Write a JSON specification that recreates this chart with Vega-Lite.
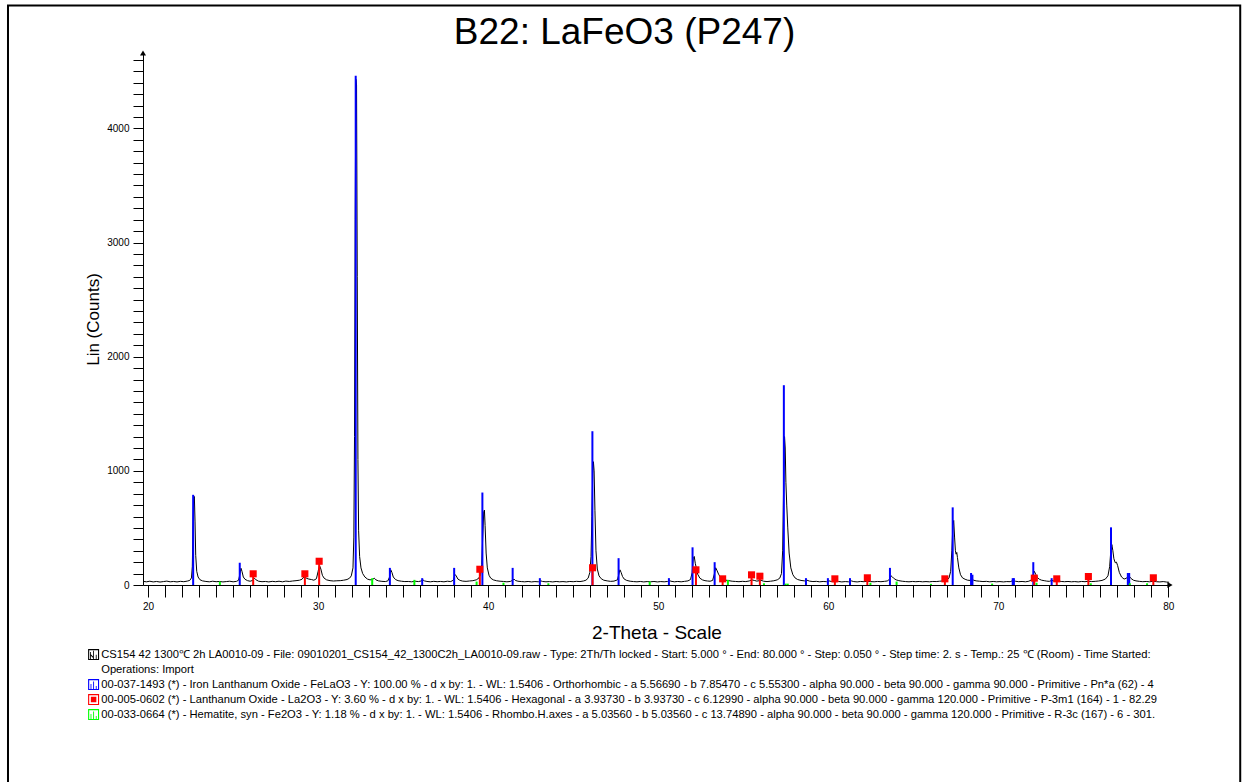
{
  "$schema": "https://vega.github.io/schema/vega-lite/v6.json",
  "width": 1027,
  "height": 532,
  "autosize": {"type": "none"},
  "padding": {"left": 143, "top": 53, "right": 76, "bottom": 197},
  "background": "white",
  "config": {"view": {"stroke": null}, "font": "Liberation Sans"},
  "title": {
    "text": "B22: LaFeO3 (P247)",
    "fontSize": 37,
    "fontWeight": "normal",
    "color": "black",
    "anchor": "middle",
    "frame": "group",
    "dx": -32,
    "offset": -77,
    "baseline": "alphabetic"
  },
  "datasets": {
    "scan": [
      {"angle": 19.7, "counts": 32}, {"angle": 19.9, "counts": 28}, {"angle": 20.1, "counts": 33}, {"angle": 20.3, "counts": 27},
      {"angle": 20.5, "counts": 31}, {"angle": 20.7, "counts": 26}, {"angle": 20.9, "counts": 30}, {"angle": 21.1, "counts": 34},
      {"angle": 21.3, "counts": 28}, {"angle": 21.5, "counts": 31}, {"angle": 21.7, "counts": 27}, {"angle": 21.9, "counts": 32},
      {"angle": 22.1, "counts": 29}, {"angle": 22.3, "counts": 34}, {"angle": 22.45, "counts": 40}, {"angle": 22.55, "counts": 62},
      {"angle": 22.6, "counts": 160}, {"angle": 22.64, "counts": 520}, {"angle": 22.68, "counts": 760}, {"angle": 22.72, "counts": 775},
      {"angle": 22.76, "counts": 560}, {"angle": 22.8, "counts": 260}, {"angle": 22.86, "counts": 120}, {"angle": 22.94, "counts": 70},
      {"angle": 23.05, "counts": 46}, {"angle": 23.2, "counts": 36}, {"angle": 23.4, "counts": 31}, {"angle": 23.6, "counts": 28},
      {"angle": 23.8, "counts": 33}, {"angle": 24.0, "counts": 29}, {"angle": 24.2, "counts": 31}, {"angle": 24.4, "counts": 27},
      {"angle": 24.6, "counts": 30}, {"angle": 24.8, "counts": 33}, {"angle": 25.0, "counts": 28}, {"angle": 25.2, "counts": 32},
      {"angle": 25.32, "counts": 42}, {"angle": 25.4, "counts": 95}, {"angle": 25.46, "counts": 147}, {"angle": 25.52, "counts": 120},
      {"angle": 25.6, "counts": 70}, {"angle": 25.7, "counts": 50}, {"angle": 25.85, "counts": 38}, {"angle": 26.0, "counts": 33},
      {"angle": 26.15, "counts": 40}, {"angle": 26.25, "counts": 60}, {"angle": 26.35, "counts": 45}, {"angle": 26.5, "counts": 33},
      {"angle": 26.7, "counts": 29}, {"angle": 26.9, "counts": 31}, {"angle": 27.1, "counts": 27}, {"angle": 27.3, "counts": 32},
      {"angle": 27.5, "counts": 29}, {"angle": 27.7, "counts": 33}, {"angle": 27.9, "counts": 28}, {"angle": 28.1, "counts": 34},
      {"angle": 28.3, "counts": 31}, {"angle": 28.5, "counts": 35}, {"angle": 28.7, "counts": 38}, {"angle": 28.9, "counts": 42},
      {"angle": 29.05, "counts": 50}, {"angle": 29.2, "counts": 78}, {"angle": 29.3, "counts": 60}, {"angle": 29.45, "counts": 52},
      {"angle": 29.6, "counts": 48}, {"angle": 29.75, "counts": 42}, {"angle": 29.9, "counts": 55}, {"angle": 30.0, "counts": 120},
      {"angle": 30.08, "counts": 171}, {"angle": 30.16, "counts": 140}, {"angle": 30.25, "counts": 85}, {"angle": 30.35, "counts": 60},
      {"angle": 30.5, "counts": 45}, {"angle": 30.7, "counts": 38}, {"angle": 30.9, "counts": 35}, {"angle": 31.1, "counts": 37},
      {"angle": 31.3, "counts": 38}, {"angle": 31.5, "counts": 42}, {"angle": 31.7, "counts": 48}, {"angle": 31.85, "counts": 60},
      {"angle": 31.95, "counts": 80}, {"angle": 32.05, "counts": 150}, {"angle": 32.1, "counts": 420}, {"angle": 32.14, "counts": 1300},
      {"angle": 32.18, "counts": 3200}, {"angle": 32.22, "counts": 4430}, {"angle": 32.26, "counts": 4380}, {"angle": 32.3, "counts": 2700},
      {"angle": 32.34, "counts": 1100}, {"angle": 32.38, "counts": 480}, {"angle": 32.44, "counts": 250}, {"angle": 32.52, "counts": 150},
      {"angle": 32.62, "counts": 100}, {"angle": 32.75, "counts": 70}, {"angle": 32.9, "counts": 52}, {"angle": 33.05, "counts": 45},
      {"angle": 33.2, "counts": 48}, {"angle": 33.3, "counts": 60}, {"angle": 33.4, "counts": 45}, {"angle": 33.55, "counts": 36},
      {"angle": 33.75, "counts": 32}, {"angle": 33.95, "counts": 30}, {"angle": 34.1, "counts": 36}, {"angle": 34.2, "counts": 70},
      {"angle": 34.27, "counts": 133}, {"angle": 34.34, "counts": 110}, {"angle": 34.42, "counts": 70}, {"angle": 34.55, "counts": 48},
      {"angle": 34.7, "counts": 38}, {"angle": 34.9, "counts": 33}, {"angle": 35.1, "counts": 30}, {"angle": 35.3, "counts": 31},
      {"angle": 35.5, "counts": 28}, {"angle": 35.7, "counts": 33}, {"angle": 35.9, "counts": 30}, {"angle": 36.05, "counts": 35},
      {"angle": 36.15, "counts": 46}, {"angle": 36.25, "counts": 36}, {"angle": 36.4, "counts": 31}, {"angle": 36.6, "counts": 28},
      {"angle": 36.8, "counts": 32}, {"angle": 37.0, "counts": 29}, {"angle": 37.2, "counts": 31}, {"angle": 37.4, "counts": 28},
      {"angle": 37.6, "counts": 33}, {"angle": 37.8, "counts": 30}, {"angle": 37.95, "counts": 42}, {"angle": 38.05, "counts": 92},
      {"angle": 38.12, "counts": 80}, {"angle": 38.22, "counts": 52}, {"angle": 38.35, "counts": 40}, {"angle": 38.5, "counts": 34},
      {"angle": 38.7, "counts": 32}, {"angle": 38.9, "counts": 35}, {"angle": 39.1, "counts": 38}, {"angle": 39.3, "counts": 45},
      {"angle": 39.45, "counts": 60}, {"angle": 39.55, "counts": 90}, {"angle": 39.62, "counts": 180}, {"angle": 39.68, "counts": 420},
      {"angle": 39.74, "counts": 640}, {"angle": 39.78, "counts": 656}, {"angle": 39.82, "counts": 520}, {"angle": 39.88, "counts": 280},
      {"angle": 39.95, "counts": 150}, {"angle": 40.05, "counts": 85}, {"angle": 40.15, "counts": 60}, {"angle": 40.3, "counts": 45},
      {"angle": 40.5, "counts": 37}, {"angle": 40.7, "counts": 33}, {"angle": 40.9, "counts": 31}, {"angle": 41.1, "counts": 28},
      {"angle": 41.3, "counts": 31}, {"angle": 41.45, "counts": 42}, {"angle": 41.52, "counts": 52}, {"angle": 41.6, "counts": 40},
      {"angle": 41.75, "counts": 33}, {"angle": 41.95, "counts": 30}, {"angle": 42.15, "counts": 28}, {"angle": 42.35, "counts": 31},
      {"angle": 42.55, "counts": 27}, {"angle": 42.75, "counts": 30}, {"angle": 42.95, "counts": 28}, {"angle": 43.1, "counts": 36},
      {"angle": 43.2, "counts": 31}, {"angle": 43.4, "counts": 28}, {"angle": 43.6, "counts": 30}, {"angle": 43.8, "counts": 27},
      {"angle": 44.0, "counts": 31}, {"angle": 44.2, "counts": 28}, {"angle": 44.4, "counts": 30}, {"angle": 44.6, "counts": 27},
      {"angle": 44.8, "counts": 31}, {"angle": 45.0, "counts": 29}, {"angle": 45.2, "counts": 32}, {"angle": 45.4, "counts": 30},
      {"angle": 45.6, "counts": 35}, {"angle": 45.75, "counts": 42}, {"angle": 45.88, "counts": 60}, {"angle": 45.98, "counts": 110},
      {"angle": 46.05, "counts": 250}, {"angle": 46.1, "counts": 600}, {"angle": 46.15, "counts": 980}, {"angle": 46.19, "counts": 1080},
      {"angle": 46.23, "counts": 1000}, {"angle": 46.28, "counts": 650}, {"angle": 46.34, "counts": 300}, {"angle": 46.42, "counts": 140},
      {"angle": 46.52, "counts": 80}, {"angle": 46.65, "counts": 55}, {"angle": 46.8, "counts": 42}, {"angle": 47.0, "counts": 36},
      {"angle": 47.2, "counts": 32}, {"angle": 47.4, "counts": 34}, {"angle": 47.6, "counts": 45}, {"angle": 47.68, "counts": 90},
      {"angle": 47.75, "counts": 133}, {"angle": 47.82, "counts": 110}, {"angle": 47.9, "counts": 75}, {"angle": 48.0, "counts": 52},
      {"angle": 48.15, "counts": 40}, {"angle": 48.35, "counts": 33}, {"angle": 48.55, "counts": 30}, {"angle": 48.75, "counts": 28},
      {"angle": 48.95, "counts": 31}, {"angle": 49.15, "counts": 27}, {"angle": 49.35, "counts": 30}, {"angle": 49.55, "counts": 28},
      {"angle": 49.75, "counts": 31}, {"angle": 49.95, "counts": 27}, {"angle": 50.15, "counts": 30}, {"angle": 50.35, "counts": 28},
      {"angle": 50.55, "counts": 31}, {"angle": 50.65, "counts": 40}, {"angle": 50.75, "counts": 33}, {"angle": 50.95, "counts": 28},
      {"angle": 51.15, "counts": 31}, {"angle": 51.35, "counts": 28}, {"angle": 51.55, "counts": 32}, {"angle": 51.75, "counts": 36},
      {"angle": 51.9, "counts": 48}, {"angle": 52.0, "counts": 110}, {"angle": 52.06, "counts": 230}, {"angle": 52.12, "counts": 250},
      {"angle": 52.18, "counts": 190}, {"angle": 52.24, "counts": 150}, {"angle": 52.32, "counts": 95}, {"angle": 52.45, "counts": 60},
      {"angle": 52.6, "counts": 45}, {"angle": 52.75, "counts": 38}, {"angle": 52.9, "counts": 35}, {"angle": 53.05, "counts": 33},
      {"angle": 53.2, "counts": 40}, {"angle": 53.3, "counts": 95}, {"angle": 53.38, "counts": 151}, {"angle": 53.45, "counts": 130},
      {"angle": 53.55, "counts": 95}, {"angle": 53.65, "counts": 70}, {"angle": 53.8, "counts": 52}, {"angle": 53.95, "counts": 43},
      {"angle": 54.15, "counts": 38}, {"angle": 54.35, "counts": 33}, {"angle": 54.55, "counts": 31}, {"angle": 54.75, "counts": 29},
      {"angle": 54.95, "counts": 32}, {"angle": 55.15, "counts": 30}, {"angle": 55.35, "counts": 35}, {"angle": 55.5, "counts": 45},
      {"angle": 55.65, "counts": 40}, {"angle": 55.8, "counts": 34}, {"angle": 55.95, "counts": 38}, {"angle": 56.05, "counts": 41},
      {"angle": 56.2, "counts": 33}, {"angle": 56.4, "counts": 30}, {"angle": 56.6, "counts": 33}, {"angle": 56.8, "counts": 37},
      {"angle": 57.0, "counts": 45}, {"angle": 57.15, "counts": 60}, {"angle": 57.25, "counts": 100}, {"angle": 57.32, "counts": 300},
      {"angle": 57.38, "counts": 900}, {"angle": 57.43, "counts": 1300}, {"angle": 57.47, "counts": 1200}, {"angle": 57.51, "counts": 900},
      {"angle": 57.56, "counts": 700}, {"angle": 57.62, "counts": 500}, {"angle": 57.7, "counts": 280}, {"angle": 57.8, "counts": 150},
      {"angle": 57.92, "counts": 90}, {"angle": 58.05, "counts": 62}, {"angle": 58.2, "counts": 48}, {"angle": 58.4, "counts": 40},
      {"angle": 58.6, "counts": 36}, {"angle": 58.75, "counts": 42}, {"angle": 58.9, "counts": 34}, {"angle": 59.1, "counts": 30},
      {"angle": 59.3, "counts": 32}, {"angle": 59.5, "counts": 28}, {"angle": 59.7, "counts": 31}, {"angle": 59.9, "counts": 29},
      {"angle": 60.05, "counts": 36}, {"angle": 60.2, "counts": 30}, {"angle": 60.4, "counts": 28}, {"angle": 60.6, "counts": 31},
      {"angle": 60.8, "counts": 27}, {"angle": 61.0, "counts": 30}, {"angle": 61.2, "counts": 28}, {"angle": 61.35, "counts": 36},
      {"angle": 61.5, "counts": 30}, {"angle": 61.7, "counts": 27}, {"angle": 61.9, "counts": 31}, {"angle": 62.1, "counts": 29},
      {"angle": 62.3, "counts": 33}, {"angle": 62.5, "counts": 30}, {"angle": 62.7, "counts": 28}, {"angle": 62.9, "counts": 31},
      {"angle": 63.1, "counts": 29}, {"angle": 63.3, "counts": 32}, {"angle": 63.5, "counts": 36}, {"angle": 63.62, "counts": 55},
      {"angle": 63.7, "counts": 80}, {"angle": 63.78, "counts": 70}, {"angle": 63.88, "counts": 55}, {"angle": 64.0, "counts": 45},
      {"angle": 64.15, "counts": 38}, {"angle": 64.35, "counts": 33}, {"angle": 64.55, "counts": 30}, {"angle": 64.75, "counts": 28},
      {"angle": 64.95, "counts": 31}, {"angle": 65.15, "counts": 29}, {"angle": 65.35, "counts": 31}, {"angle": 65.55, "counts": 28},
      {"angle": 65.75, "counts": 30}, {"angle": 65.95, "counts": 28}, {"angle": 66.15, "counts": 31}, {"angle": 66.35, "counts": 30},
      {"angle": 66.55, "counts": 33}, {"angle": 66.75, "counts": 36}, {"angle": 66.95, "counts": 42}, {"angle": 67.1, "counts": 60},
      {"angle": 67.2, "counts": 120}, {"angle": 67.27, "counts": 300}, {"angle": 67.33, "counts": 520}, {"angle": 67.38, "counts": 565},
      {"angle": 67.43, "counts": 420}, {"angle": 67.48, "counts": 300}, {"angle": 67.52, "counts": 270}, {"angle": 67.56, "counts": 285},
      {"angle": 67.6, "counts": 240}, {"angle": 67.68, "counts": 150}, {"angle": 67.78, "counts": 90}, {"angle": 67.9, "counts": 62},
      {"angle": 68.05, "counts": 50}, {"angle": 68.2, "counts": 42}, {"angle": 68.35, "counts": 40}, {"angle": 68.45, "counts": 52},
      {"angle": 68.55, "counts": 42}, {"angle": 68.7, "counts": 36}, {"angle": 68.9, "counts": 33}, {"angle": 69.1, "counts": 30},
      {"angle": 69.3, "counts": 32}, {"angle": 69.5, "counts": 28}, {"angle": 69.7, "counts": 31}, {"angle": 69.9, "counts": 28},
      {"angle": 70.1, "counts": 30}, {"angle": 70.3, "counts": 27}, {"angle": 70.5, "counts": 30}, {"angle": 70.7, "counts": 29},
      {"angle": 70.85, "counts": 38}, {"angle": 71.0, "counts": 33}, {"angle": 71.2, "counts": 29}, {"angle": 71.4, "counts": 31},
      {"angle": 71.6, "counts": 28}, {"angle": 71.8, "counts": 33}, {"angle": 71.95, "counts": 45}, {"angle": 72.05, "counts": 90},
      {"angle": 72.12, "counts": 120}, {"angle": 72.2, "counts": 95}, {"angle": 72.3, "counts": 65}, {"angle": 72.42, "counts": 50},
      {"angle": 72.55, "counts": 42}, {"angle": 72.7, "counts": 38}, {"angle": 72.85, "counts": 34}, {"angle": 73.0, "counts": 32},
      {"angle": 73.15, "counts": 40}, {"angle": 73.3, "counts": 34}, {"angle": 73.5, "counts": 36}, {"angle": 73.7, "counts": 31},
      {"angle": 73.9, "counts": 29}, {"angle": 74.1, "counts": 31}, {"angle": 74.3, "counts": 28}, {"angle": 74.5, "counts": 30},
      {"angle": 74.7, "counts": 27}, {"angle": 74.9, "counts": 31}, {"angle": 75.1, "counts": 29}, {"angle": 75.3, "counts": 33},
      {"angle": 75.5, "counts": 30}, {"angle": 75.7, "counts": 32}, {"angle": 75.9, "counts": 35}, {"angle": 76.1, "counts": 40},
      {"angle": 76.3, "counts": 52}, {"angle": 76.45, "counts": 80}, {"angle": 76.55, "counts": 160}, {"angle": 76.62, "counts": 300},
      {"angle": 76.68, "counts": 354}, {"angle": 76.74, "counts": 300}, {"angle": 76.8, "counts": 230}, {"angle": 76.88, "counts": 195},
      {"angle": 76.95, "counts": 200}, {"angle": 77.02, "counts": 170}, {"angle": 77.12, "counts": 110}, {"angle": 77.25, "counts": 70},
      {"angle": 77.4, "counts": 52}, {"angle": 77.55, "counts": 60}, {"angle": 77.65, "counts": 80}, {"angle": 77.72, "counts": 75},
      {"angle": 77.8, "counts": 58}, {"angle": 77.95, "counts": 42}, {"angle": 78.1, "counts": 36}, {"angle": 78.3, "counts": 32},
      {"angle": 78.5, "counts": 29}, {"angle": 78.7, "counts": 31}, {"angle": 78.9, "counts": 28}, {"angle": 79.1, "counts": 33},
      {"angle": 79.3, "counts": 29}, {"angle": 79.5, "counts": 27}, {"angle": 79.7, "counts": 30}, {"angle": 79.9, "counts": 26},
      {"angle": 80.05, "counts": 24}
    ],
    "sticks": [
      {"phase": "FeLaO3", "angle": 22.65, "counts": 790}, {"phase": "FeLaO3", "angle": 25.39, "counts": 195},
      {"phase": "FeLaO3", "angle": 32.21, "counts": 4460}, {"phase": "FeLaO3", "angle": 34.22, "counts": 150},
      {"phase": "FeLaO3", "angle": 36.12, "counts": 60}, {"phase": "FeLaO3", "angle": 38.0, "counts": 150},
      {"phase": "FeLaO3", "angle": 39.66, "counts": 810}, {"phase": "FeLaO3", "angle": 41.44, "counts": 150},
      {"phase": "FeLaO3", "angle": 43.04, "counts": 60}, {"phase": "FeLaO3", "angle": 46.13, "counts": 1347},
      {"phase": "FeLaO3", "angle": 47.67, "counts": 235}, {"phase": "FeLaO3", "angle": 50.63, "counts": 60},
      {"phase": "FeLaO3", "angle": 52.02, "counts": 330}, {"phase": "FeLaO3", "angle": 53.32, "counts": 200},
      {"phase": "FeLaO3", "angle": 57.39, "counts": 1750}, {"phase": "FeLaO3", "angle": 58.69, "counts": 60},
      {"phase": "FeLaO3", "angle": 59.98, "counts": 60}, {"phase": "FeLaO3", "angle": 61.28, "counts": 60},
      {"phase": "FeLaO3", "angle": 63.63, "counts": 150}, {"phase": "FeLaO3", "angle": 67.32, "counts": 680},
      {"phase": "FeLaO3", "angle": 68.4, "counts": 105}, {"phase": "FeLaO3", "angle": 68.48, "counts": 90},
      {"phase": "FeLaO3", "angle": 70.85, "counts": 60}, {"phase": "FeLaO3", "angle": 70.92, "counts": 60},
      {"phase": "FeLaO3", "angle": 72.06, "counts": 200}, {"phase": "FeLaO3", "angle": 73.14, "counts": 60},
      {"phase": "FeLaO3", "angle": 76.63, "counts": 505}, {"phase": "FeLaO3", "angle": 77.62, "counts": 105},
      {"phase": "FeLaO3", "angle": 77.7, "counts": 105},
      {"phase": "La2O3", "angle": 26.18, "counts": 98}, {"phase": "La2O3", "angle": 29.22, "counts": 98},
      {"phase": "La2O3", "angle": 30.06, "counts": 208}, {"phase": "La2O3", "angle": 39.51, "counts": 138},
      {"phase": "La2O3", "angle": 46.14, "counts": 151}, {"phase": "La2O3", "angle": 52.22, "counts": 133},
      {"phase": "La2O3", "angle": 53.79, "counts": 54}, {"phase": "La2O3", "angle": 55.49, "counts": 89},
      {"phase": "La2O3", "angle": 55.98, "counts": 77}, {"phase": "La2O3", "angle": 60.39, "counts": 54},
      {"phase": "La2O3", "angle": 62.3, "counts": 63}, {"phase": "La2O3", "angle": 66.86, "counts": 54},
      {"phase": "La2O3", "angle": 72.12, "counts": 60}, {"phase": "La2O3", "angle": 73.44, "counts": 54},
      {"phase": "La2O3", "angle": 75.3, "counts": 74}, {"phase": "La2O3", "angle": 79.12, "counts": 63},
      {"phase": "Fe2O3", "angle": 24.22, "counts": 30}, {"phase": "Fe2O3", "angle": 33.18, "counts": 60},
      {"phase": "Fe2O3", "angle": 35.66, "counts": 45}, {"phase": "Fe2O3", "angle": 39.32, "counts": 30},
      {"phase": "Fe2O3", "angle": 40.9, "counts": 20}, {"phase": "Fe2O3", "angle": 43.54, "counts": 15},
      {"phase": "Fe2O3", "angle": 49.5, "counts": 30}, {"phase": "Fe2O3", "angle": 54.1, "counts": 45},
      {"phase": "Fe2O3", "angle": 56.22, "counts": 15}, {"phase": "Fe2O3", "angle": 57.5, "counts": 12},
      {"phase": "Fe2O3", "angle": 57.62, "counts": 12}, {"phase": "Fe2O3", "angle": 62.48, "counts": 20},
      {"phase": "Fe2O3", "angle": 64.02, "counts": 30}, {"phase": "Fe2O3", "angle": 66.04, "counts": 10},
      {"phase": "Fe2O3", "angle": 69.64, "counts": 12}, {"phase": "Fe2O3", "angle": 72.25, "counts": 20},
      {"phase": "Fe2O3", "angle": 75.44, "counts": 15}, {"phase": "Fe2O3", "angle": 77.74, "counts": 15},
      {"phase": "Fe2O3", "angle": 78.75, "counts": 15}
    ]
  },
  "layer": [
    {
      "data": {"values": [{}]},
      "mark": {"type": "rect", "filled": false, "stroke": "black", "strokeWidth": 2, "clip": false},
      "encoding": {
        "x": {"datum": 11.76, "type": "quantitative", "scale": {"domain": [19.7, 80.1], "nice": false, "zero": false}},
        "x2": {"datum": 84.23},
        "y": {"datum": 5077, "type": "quantitative", "scale": {"domain": [0, 4660], "nice": false, "zero": false}},
        "y2": {"datum": -2000}
      }
    },
    {
      "data": {"name": "scan"},
      "mark": {"type": "line", "strokeWidth": 1, "interpolate": "linear"},
      "encoding": {
        "x": {
          "field": "angle",
          "type": "quantitative",
          "scale": {"domain": [19.7, 80.1], "nice": false, "zero": false},
          "axis": {
            "orient": "bottom",
            "title": "2-Theta - Scale",
            "titleFontSize": 19,
            "titleFontWeight": "normal",
            "titleColor": "black",
            "titlePadding": 12,
            "values": [20,21,22,23,24,25,26,27,28,29,30,31,32,33,34,35,36,37,38,39,40,41,42,43,44,45,46,47,48,49,50,51,52,53,54,55,56,57,58,59,60,61,62,63,64,65,66,67,68,69,70,71,72,73,74,75,76,77,78,79,80],
            "tickCount": 1000,
            "format": "d",
            "labelExpr": "datum.value % 10 === 0 ? datum.label : ''",
            "labelFontSize": 10,
            "labelColor": "black",
            "labelPadding": 4,
            "labelFlush": false,
            "labelOverlap": false,
            "labelBound": false,
            "grid": false,
            "domainColor": "black",
            "tickColor": "black",
            "tickSize": 12,
            "encode": {
              "ticks": {
                "update": {
                  "y2": {"signal": "datum.value % 10 === 0 ? 12 : datum.value % 5 === 0 ? 9 : 6"}
                }
              }
            }
          }
        },
        "y": {
          "field": "counts",
          "type": "quantitative",
          "scale": {"domain": [0, 4660], "nice": false, "zero": false},
          "axis": {
            "orient": "left",
            "title": "Lin (Counts)",
            "titleFontSize": 17,
            "titleFontWeight": "normal",
            "titleColor": "black",
            "titlePadding": 4,
            "values": [0,100,200,300,400,500,600,700,800,900,1000,1100,1200,1300,1400,1500,1600,1700,1800,1900,2000,2100,2200,2300,2400,2500,2600,2700,2800,2900,3000,3100,3200,3300,3400,3500,3600,3700,3800,3900,4000,4100,4200,4300,4400,4500,4600],
            "tickCount": 1000,
            "format": "d",
            "labelExpr": "datum.value % 1000 === 0 ? datum.label : ''",
            "labelFontSize": 10,
            "labelColor": "black",
            "labelPadding": 4,
            "labelFlush": false,
            "labelOverlap": false,
            "labelBound": false,
            "grid": false,
            "domainColor": "black",
            "tickColor": "black",
            "tickSize": 10,
            "encode": {
              "ticks": {
                "update": {
                  "x2": {"signal": "datum.value % 1000 === 0 ? -10 : -6"}
                }
              }
            }
          }
        },
        "color": {
          "datum": "sample",
          "type": "nominal",
          "title": null,
          "scale": {
            "domain": ["sample", "ops", "FeLaO3", "La2O3", "Fe2O3"],
            "range": ["black", "white", "#0000ff", "#ff0000", "#00ff00"]
          },
          "legend": {
            "orient": "none",
            "legendX": -55,
            "legendY": 596,
            "title": null,
            "direction": "vertical",
            "labelFontSize": 11.2,
            "labelColor": "black",
            "labelLimit": 0,
            "labelOffset": 2,
            "rowPadding": 2,
            "symbolSize": 121,
            "labelExpr": "datum.value === 'sample' ? 'CS154 42 1300℃ 2h  LA0010-09 - File: 09010201_CS154_42_1300C2h_LA0010-09.raw - Type: 2Th/Th locked - Start: 5.000 ° - End: 80.000 ° - Step: 0.050 ° - Step time: 2. s - Temp.: 25 ℃ (Room) - Time Started:' : datum.value === 'ops' ? 'Operations: Import' : datum.value === 'FeLaO3' ? '00-037-1493 (*) - Iron Lanthanum Oxide - FeLaO3 - Y: 100.00 % - d x by: 1. - WL: 1.5406 - Orthorhombic - a 5.56690 - b 7.85470 - c 5.55300 - alpha 90.000 - beta 90.000 - gamma 90.000 - Primitive - Pn*a (62) - 4' : datum.value === 'La2O3' ? '00-005-0602 (*) - Lanthanum Oxide - La2O3 - Y: 3.60 % - d x by: 1. - WL: 1.5406 - Hexagonal - a 3.93730 - b 3.93730 - c 6.12990 - alpha 90.000 - beta 90.000 - gamma 120.000 - Primitive - P-3m1 (164) - 1 - 82.29' : '00-033-0664 (*) - Hematite, syn - Fe2O3 - Y: 1.18 % - d x by: 1. - WL: 1.5406 - Rhombo.H.axes - a 5.03560 - b 5.03560 - c 13.74890 - alpha 90.000 - beta 90.000 - gamma 120.000 - Primitive - R-3c (167) - 6 - 301.'",
            "encode": {
              "symbols": {
                "update": {
                  "shape": {"signal": "datum.value === 'La2O3' ? 'M-1,-1H1V1H-1Z M-0.8,-0.8V0.8H0.8V-0.8Z M-0.5,-0.5H0.5V0.5H-0.5Z' : datum.value === 'sample' ? 'M-1,-1H1V1H-1Z M-0.8,-0.8V0.8H0.8V-0.8Z M-0.65,0.8H-0.5V-0.45H-0.65Z M-0.1,0.8H0.05V-0.7H-0.1Z M0.4,0.8H0.55V0.05H0.4Z M-0.5,0.2L-0.1,0.6V0.35L-0.5,-0.05Z' : 'M-1,-1H1V1H-1Z M-0.8,-0.8V0.8H0.8V-0.8Z M-0.55,0.8H-0.4V-0.1H-0.55Z M-0.08,0.8H0.08V-0.55H-0.08Z M0.4,0.8H0.55V0.25H0.4Z'"},
                  "fill": {"signal": "datum.value === 'sample' ? 'black' : datum.value === 'FeLaO3' ? '#0000ff' : datum.value === 'La2O3' ? '#ff0000' : datum.value === 'Fe2O3' ? '#00ff00' : 'transparent'"},
                  "stroke": {"value": "transparent"},
                  "strokeWidth": {"value": 0},
                  "opacity": {"value": 1}
                }
              }
            }
          }
        }
      }
    },
    {
      "data": {"name": "sticks"},
      "mark": {"type": "rule", "strokeWidth": 2},
      "encoding": {
        "x": {"field": "angle", "type": "quantitative", "scale": {"domain": [19.7, 80.1], "nice": false, "zero": false}},
        "y": {"field": "counts", "type": "quantitative", "scale": {"domain": [0, 4660], "nice": false, "zero": false}},
        "y2": {"datum": 0},
        "color": {"field": "phase", "type": "nominal", "title": null}
      }
    },
    {
      "data": {"name": "sticks"},
      "transform": [{"filter": "datum.phase === 'La2O3'"}],
      "mark": {"type": "point", "shape": "square", "filled": true, "size": 50, "opacity": 1},
      "encoding": {
        "x": {"field": "angle", "type": "quantitative", "scale": {"domain": [19.7, 80.1], "nice": false, "zero": false}},
        "y": {"field": "counts", "type": "quantitative", "scale": {"domain": [0, 4660], "nice": false, "zero": false}},
        "color": {"field": "phase", "type": "nominal", "title": null}
      }
    },
    {
      "data": {"values": [{}]},
      "mark": {"type": "point", "shape": "triangle-up", "filled": true, "size": 36, "color": "black", "opacity": 1, "clip": false},
      "encoding": {
        "x": {"datum": 19.7, "type": "quantitative"},
        "y": {"datum": 4660, "type": "quantitative"}
      }
    },
    {
      "data": {"values": [{}]},
      "mark": {"type": "point", "shape": "triangle-right", "filled": true, "size": 36, "color": "black", "opacity": 1, "clip": false},
      "encoding": {
        "x": {"datum": 80.1, "type": "quantitative"},
        "y": {"datum": 0, "type": "quantitative"}
      }
    }
  ]
}
